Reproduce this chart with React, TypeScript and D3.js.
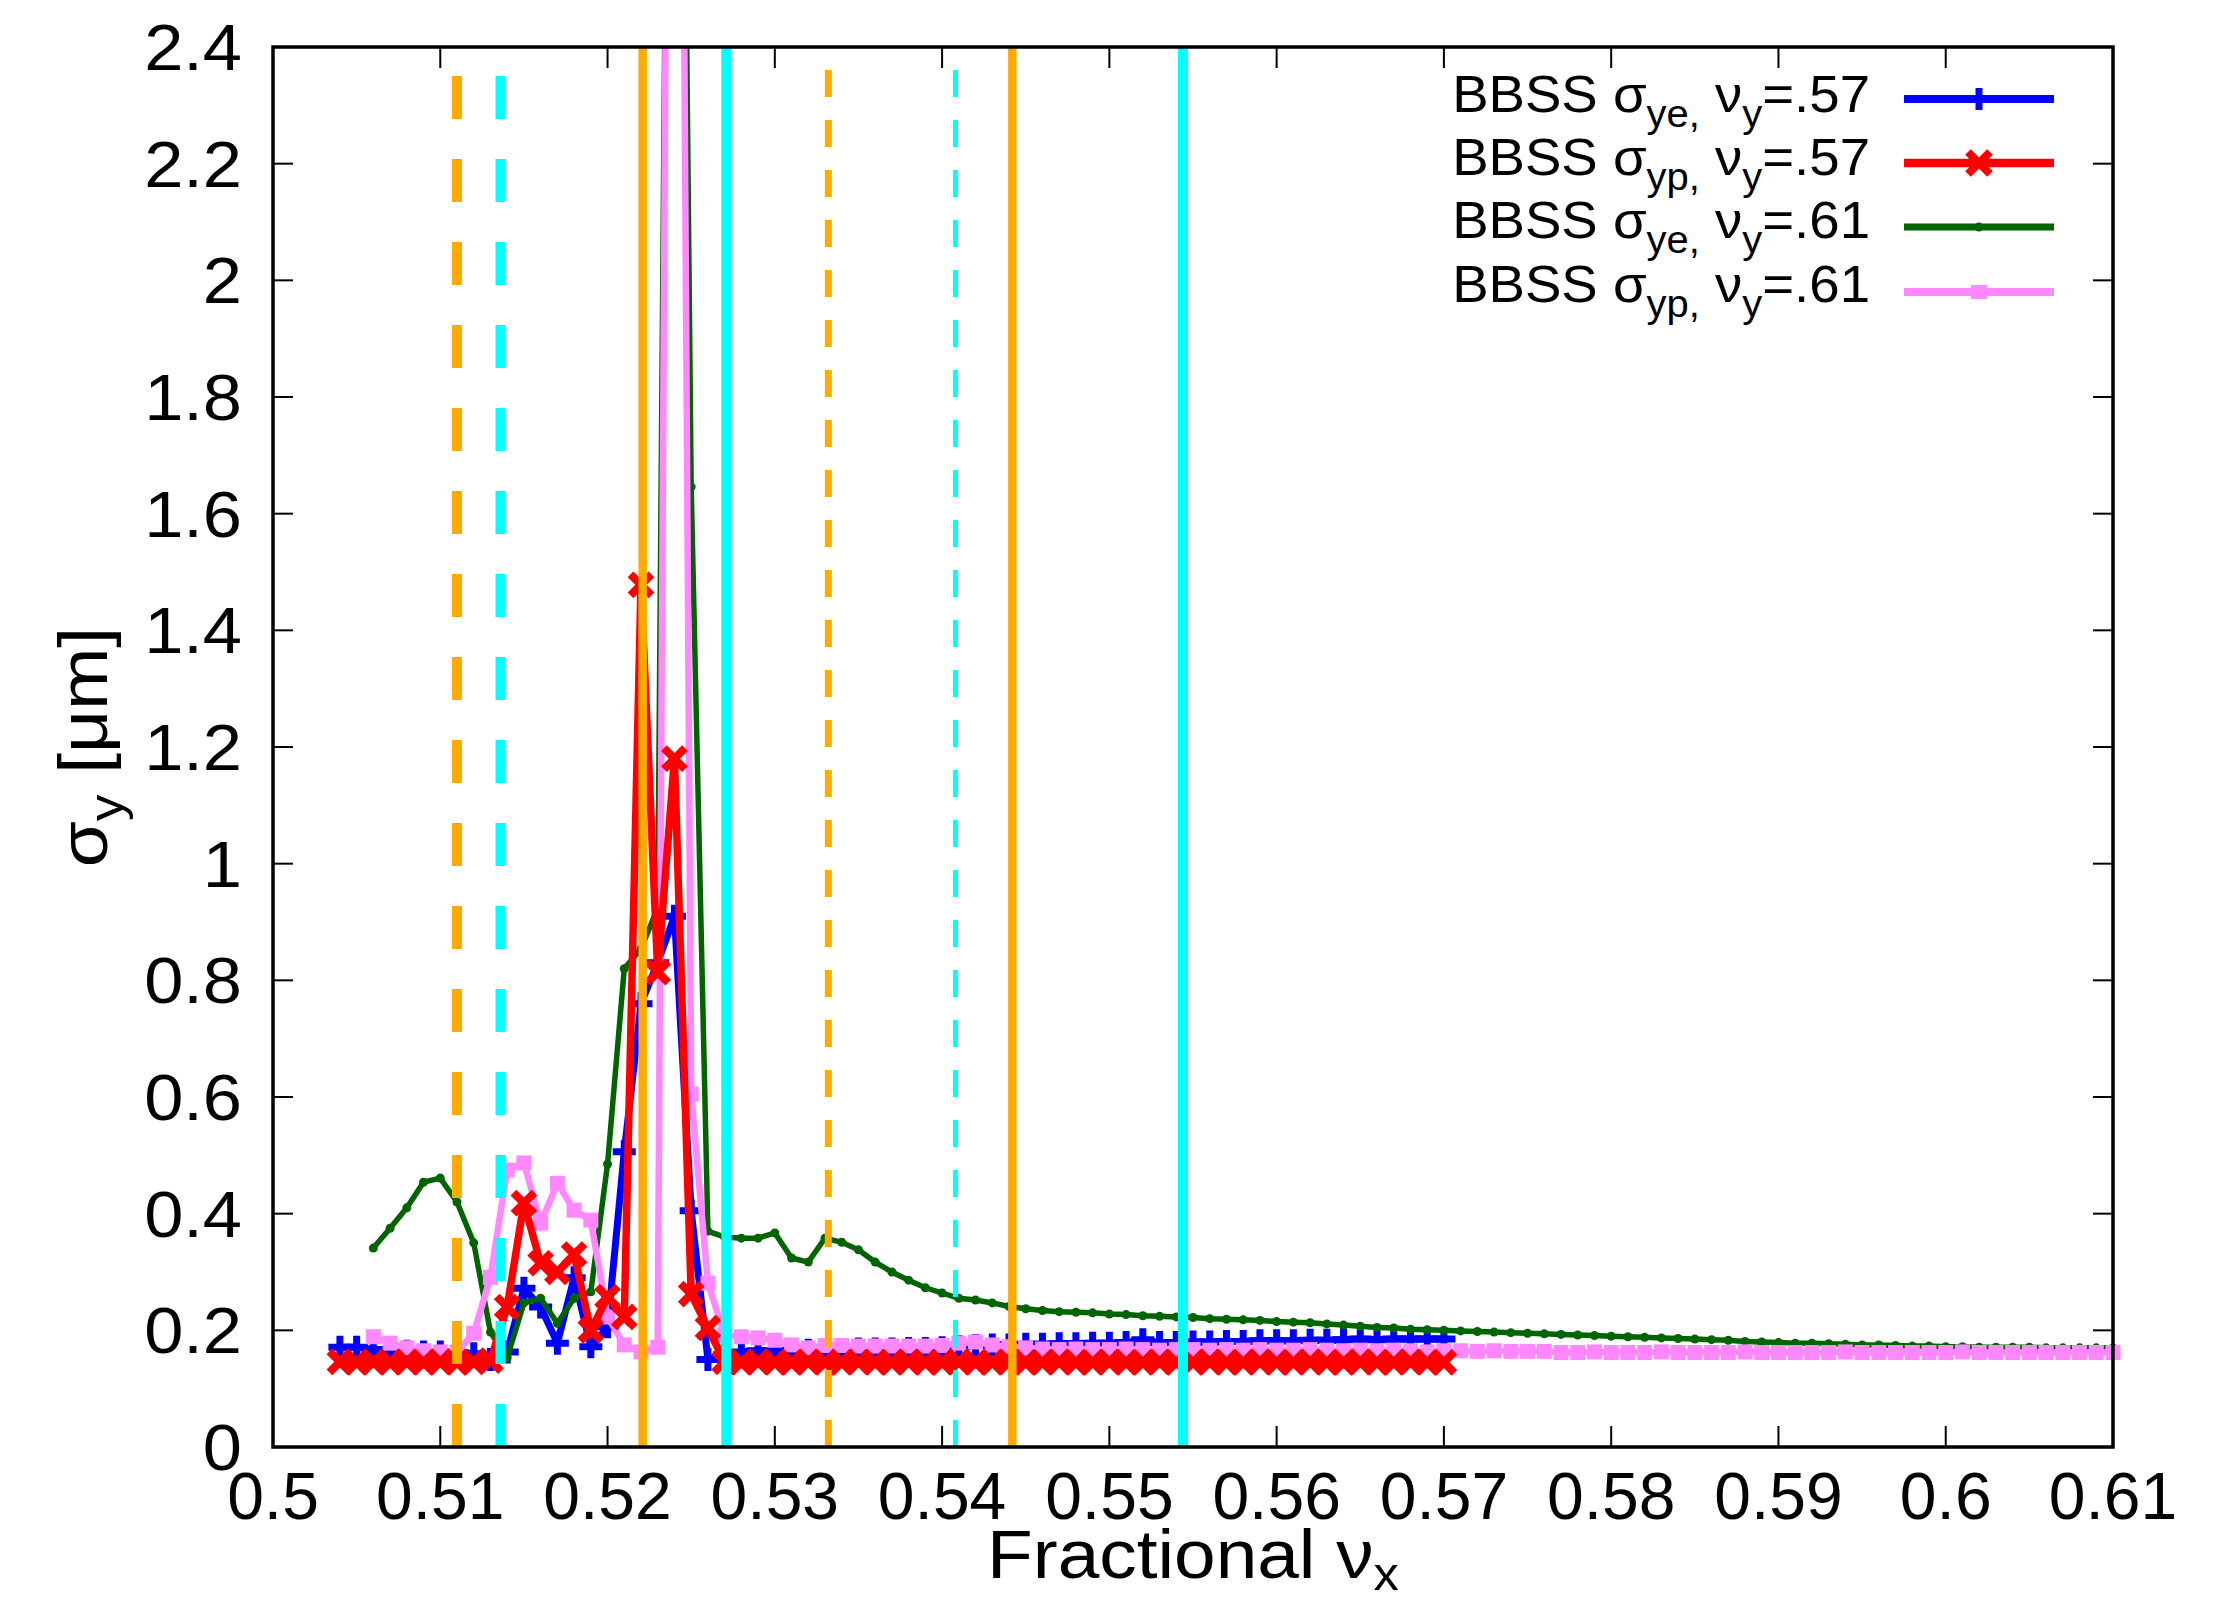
import React from 'react';
import * as d3 from 'd3';

// ---------- data ----------
const X57 = [0.504,0.505,0.506,0.507,0.508,0.509,0.510,0.511,0.512,0.513,0.514,0.515,0.516,0.517,0.518,0.519,0.520,0.521,0.522,0.523,0.524,0.525,0.526,0.527,0.528,0.529,0.530,0.531,0.532,0.533,0.534,0.535,0.536,0.537,0.538,0.539,0.540,0.541,0.542,0.543,0.544,0.545,0.546,0.547,0.548,0.549,0.550,0.551,0.552,0.553,0.554,0.555,0.556,0.557,0.558,0.559,0.560,0.561,0.562,0.563,0.564,0.565,0.566,0.567,0.568,0.569,0.570];
const BLUE57 = [0.171,0.171,0.167,0.165,0.164,0.163,0.163,0.162,0.160,0.150,0.163,0.272,0.240,0.178,0.290,0.172,0.206,0.506,0.760,0.830,0.910,0.405,0.150,0.158,0.163,0.165,0.165,0.166,0.166,0.167,0.167,0.168,0.168,0.168,0.169,0.169,0.170,0.172,0.174,0.175,0.175,0.176,0.176,0.177,0.177,0.178,0.178,0.179,0.184,0.179,0.179,0.180,0.180,0.181,0.181,0.182,0.182,0.182,0.183,0.183,0.184,0.185,0.184,0.185,0.185,0.185,0.185];
const RED57 = [0.146,0.145,0.146,0.145,0.146,0.145,0.146,0.145,0.146,0.148,0.240,0.418,0.315,0.300,0.330,0.200,0.257,0.223,1.478,0.814,1.180,0.262,0.204,0.146,0.145,0.146,0.145,0.145,0.146,0.145,0.145,0.146,0.145,0.145,0.146,0.145,0.145,0.146,0.145,0.145,0.146,0.145,0.145,0.146,0.145,0.145,0.146,0.145,0.145,0.146,0.145,0.145,0.146,0.145,0.145,0.146,0.145,0.145,0.146,0.145,0.145,0.146,0.145,0.145,0.146,0.145,0.145];
const X61 = [0.506,0.507,0.508,0.509,0.510,0.511,0.512,0.513,0.514,0.515,0.516,0.517,0.518,0.519,0.520,0.521,0.522,0.523,0.524,0.525,0.526,0.527,0.528,0.529,0.530,0.531,0.532,0.533,0.534,0.535,0.536,0.537,0.538,0.539,0.540,0.541,0.542,0.543,0.544,0.545,0.546,0.547,0.548,0.549,0.550,0.551,0.552,0.553,0.554,0.555,0.556,0.557,0.558,0.559,0.560,0.561,0.562,0.563,0.564,0.565,0.566,0.567,0.568,0.569,0.570,0.571,0.572,0.573,0.574,0.575,0.576,0.577,0.578,0.579,0.580,0.581,0.582,0.583,0.584,0.585,0.586,0.587,0.588,0.589,0.590,0.591,0.592,0.593,0.594,0.595,0.596,0.597,0.598,0.599,0.600,0.601,0.602,0.603,0.604,0.605,0.606,0.607,0.608,0.609,0.610];
const GREEN61 = [0.341,0.375,0.410,0.454,0.461,0.420,0.350,0.197,0.153,0.247,0.255,0.212,0.255,0.266,0.485,0.820,0.854,0.924,4.5,1.646,0.370,0.360,0.358,0.358,0.367,0.324,0.317,0.358,0.351,0.338,0.317,0.300,0.286,0.273,0.264,0.255,0.252,0.247,0.241,0.237,
  0.234,0.232,0.231,0.230,0.228,0.227,0.225,0.224,0.223,0.222,0.220,0.219,0.218,0.217,0.215,0.214,0.213,0.211,0.209,0.207,0.205,0.204,0.202,0.201,0.200,0.199,0.198,0.197,0.196,0.195,0.194,0.193,0.192,0.191,0.190,0.189,0.188,0.187,0.186,0.185,0.184,0.183,0.181,0.180,0.179,0.178,0.178,0.177,0.176,0.175,0.175,0.174,0.173,0.173,0.172,0.172,0.171,0.171,0.171,0.171,0.170,0.170,0.170,0.170,0.170];
const VIOLET61 = [0.189,0.178,0.170,0.165,0.163,0.163,0.195,0.291,0.475,0.487,0.384,0.452,0.406,0.389,0.223,0.175,0.163,0.171,5.0,0.605,0.281,0.192,0.189,0.187,0.183,0.175,0.170,0.174,0.174,0.173,0.173,0.173,0.173,0.173,0.174,0.178,0.180,0.175,0.172,0.170,
  0.168,0.167,0.168,0.167,0.167,0.168,0.167,0.166,0.167,0.167,0.166,0.167,0.166,0.167,0.166,0.166,0.167,0.166,0.165,0.166,0.165,0.166,0.165,0.163,0.165,0.165,0.164,0.165,0.164,0.164,0.164,0.162,0.162,0.163,0.162,0.162,0.162,0.163,0.162,0.162,0.162,0.162,0.163,0.162,0.162,0.162,0.162,0.162,0.163,0.162,0.162,0.162,0.162,0.162,0.162,0.163,0.162,0.162,0.162,0.162,0.162,0.162,0.162,0.162,0.162];

const X_TICKS = [0.5,0.51,0.52,0.53,0.54,0.55,0.56,0.57,0.58,0.59,0.6,0.61];
const X_TICK_LABELS = ['0.5','0.51','0.52','0.53','0.54','0.55','0.56','0.57','0.58','0.59','0.6','0.61'];
const Y_TICKS = [0,0.2,0.4,0.6,0.8,1,1.2,1.4,1.6,1.8,2,2.2,2.4];
const Y_TICK_LABELS = ['0','0.2','0.4','0.6','0.8','1','1.2','1.4','1.6','1.8','2','2.2','2.4'];

// resonance line positions (fractional nu_x)
const ORANGE_THICK_DASH = [0.5110];
const CYAN_THICK_DASH = [0.5136];
const ORANGE_SOLID = [0.5221, 0.5442];
const CYAN_SOLID = [0.5271, 0.5544];
const ORANGE_THIN_DASH = [0.5332];
const CYAN_THIN_DASH = [0.5408];

const LEGEND_SUB = ['ye,', 'yp,', 'ye,', 'yp,'];
const LEGEND_NUY = ['.57', '.57', '.61', '.61'];

// ---------- layout ----------
const W = 2228, H = 1602;
const L = 273, R = 2113, T = 47, B = 1447;
const FONT = '"Liberation Sans", Arial, Helvetica, sans-serif';
const SX = 1.1;

const BLUE = '#0000ff', RED = '#ff0000', GREEN = '#006400', VIOLET = '#ff88ff';
const ORANGE = '#ffaa00', CYAN = '#00ffff';

export default function App() {
  const x = d3.scaleLinear().domain([0.5, 0.61]).range([L, R]);
  const y = d3.scaleLinear().domain([0, 2.4]).range([B, T]);

  const mk = (xs: number[], ys: number[]) => xs.map((v, i) => [x(v), y(ys[i])] as [number, number]);
  const line = d3.line<[number, number]>().x(d => d[0]).y(d => d[1]);

  const blue = mk(X57, BLUE57);
  const red = mk(X57, RED57);
  const green = mk(X61, GREEN61);
  const violet = mk(X61, VIOLET61);

  const plus = (px: number, py: number, s = 11) => `M${px - s},${py}h${2 * s}M${px},${py - s}v${2 * s}`;
  const cross = (px: number, py: number, s = 10) => `M${px - s},${py - s}l${2 * s},${2 * s}M${px - s},${py + s}l${2 * s},${-2 * s}`;

  const vline = (v: number, color: string, w: number, dash?: string, key?: string) => (
    <line key={key} x1={x(v)} x2={x(v)} y1={B} y2={T} stroke={color} strokeWidth={w} strokeDasharray={dash} />
  );

  const legendRows = [0, 1, 2, 3];
  const legBase = [112, 175, 238, 302];
  const legLineY = [99, 163, 227, 292];
  const LX1 = 1904, LX2 = 2054, LXM = 1979;

  return (
    <svg width={W} height={H} style={{ position: 'absolute', left: 0, top: 0, background: '#fff' }} fontFamily={FONT}>
      <rect x={0} y={0} width={W} height={H} fill="#fff" />
      <defs>
        <clipPath id="plotclip">
          <rect x={0} y={T} width={W} height={B - T} />
        </clipPath>
      </defs>

      <g clipPath="url(#plotclip)">
        {/* blue */}
        <path d={line(blue) || ''} fill="none" stroke={BLUE} strokeWidth={7} />
        {blue.map((p, i) => <path key={'b' + i} d={plus(p[0], p[1], 11.5)} stroke={BLUE} strokeWidth={7} fill="none" />)}
        {/* green */}
        <path d={line(green) || ''} fill="none" stroke={GREEN} strokeWidth={5.5} />
        {green.map((p, i) => <circle key={'g' + i} cx={p[0]} cy={p[1]} r={4.5} fill={GREEN} />)}
        {/* violet */}
        <path d={line(violet) || ''} fill="none" stroke={VIOLET} strokeWidth={6.5} />
        {violet.map((p, i) => <rect key={'v' + i} x={p[0] - 7.5} y={p[1] - 7.5} width={15} height={15} fill={VIOLET} />)}
        {/* red */}
        <path d={line(red) || ''} fill="none" stroke={RED} strokeWidth={7.5} />
        {red.map((p, i) => <path key={'r' + i} d={cross(p[0], p[1], 10.5)} stroke={RED} strokeWidth={8} fill="none" />)}
      </g>

      {/* resonance lines */}
      {ORANGE_THICK_DASH.map((v, i) => vline(v, ORANGE, 10, '43 40', 'otd' + i))}
      {CYAN_THICK_DASH.map((v, i) => vline(v, CYAN, 10, '43 40', 'ctd' + i))}
      {ORANGE_SOLID.map((v, i) => vline(v, ORANGE, 8.5, undefined, 'os' + i))}
      {CYAN_SOLID.map((v, i) => vline(v, CYAN, 10, undefined, 'cs' + i))}
      {ORANGE_THIN_DASH.map((v, i) => vline(v, ORANGE, 7, '27 23', 'on' + i))}
      {CYAN_THIN_DASH.map((v, i) => vline(v, CYAN, 5, '27 23', 'cn' + i))}

      {/* ticks */}
      {X_TICKS.map((t, i) => (
        <g key={'xt' + i}>
          <line x1={x(t)} x2={x(t)} y1={B} y2={B - 21} stroke="#000" strokeWidth={2} />
          <line x1={x(t)} x2={x(t)} y1={T} y2={T + 21} stroke="#000" strokeWidth={2} />
          <text transform={`translate(${x(t)},1519) scale(1.0,1)`} textAnchor="middle" fontSize={66} fill="#000">{X_TICK_LABELS[i]}</text>
        </g>
      ))}
      {Y_TICKS.map((t, i) => (
        <g key={'yt' + i}>
          <line x1={L} x2={L + 20} y1={y(t)} y2={y(t)} stroke="#000" strokeWidth={2} />
          <line x1={R} x2={R - 20} y1={y(t)} y2={y(t)} stroke="#000" strokeWidth={2} />
          <text transform={`translate(242,${y(t) + 23}) scale(${SX},1)`} textAnchor="end" fontSize={64} fill="#000">{Y_TICK_LABELS[i]}</text>
        </g>
      ))}

      {/* border */}
      <rect x={L} y={T} width={R - L} height={B - T} fill="none" stroke="#000" strokeWidth={3.5} />

      {/* axis titles */}
      <text transform={`translate(${(L + R) / 2},1578) scale(${SX},1)`} textAnchor="middle" fontSize={68} fill="#000">
        Fractional ν<tspan dy={12} fontSize={46}>x</tspan>
      </text>
      <text transform={`translate(107,${(T + B) / 2}) rotate(-90) scale(${SX},1)`} textAnchor="middle" fontSize={68} fill="#000">
        σ<tspan dy={16} fontSize={48}>y</tspan><tspan dy={-16}> [μm]</tspan>
      </text>

      {/* legend */}
      {legendRows.map(i => (
        <g key={'leg' + i}>
          <text transform={`translate(1870,${legBase[i]}) scale(1.05,1)`} textAnchor="end" fontSize={52} fill="#000">
            BBSS σ<tspan dy={15} fontSize={38}>{LEGEND_SUB[i]}</tspan><tspan dy={-15}> ν</tspan><tspan dy={15} fontSize={38}>y</tspan><tspan dy={-15}>={LEGEND_NUY[i]}</tspan>
          </text>
        </g>
      ))}
      <line x1={LX1} x2={LX2} y1={legLineY[0]} y2={legLineY[0]} stroke={BLUE} strokeWidth={8} />
      <path d={plus(LXM, legLineY[0])} stroke={BLUE} strokeWidth={7} />
      <line x1={LX1} x2={LX2} y1={legLineY[1]} y2={legLineY[1]} stroke={RED} strokeWidth={8.5} />
      <path d={cross(LXM, legLineY[1], 11)} stroke={RED} strokeWidth={8} />
      <line x1={LX1} x2={LX2} y1={legLineY[2]} y2={legLineY[2]} stroke={GREEN} strokeWidth={7} />
      <circle cx={LXM} cy={legLineY[2]} r={4.5} fill={GREEN} />
      <line x1={LX1} x2={LX2} y1={legLineY[3]} y2={legLineY[3]} stroke={VIOLET} strokeWidth={8} />
      <rect x={LXM - 8} y={legLineY[3] - 7} width={16} height={14} fill={VIOLET} />
    </svg>
  );
}
